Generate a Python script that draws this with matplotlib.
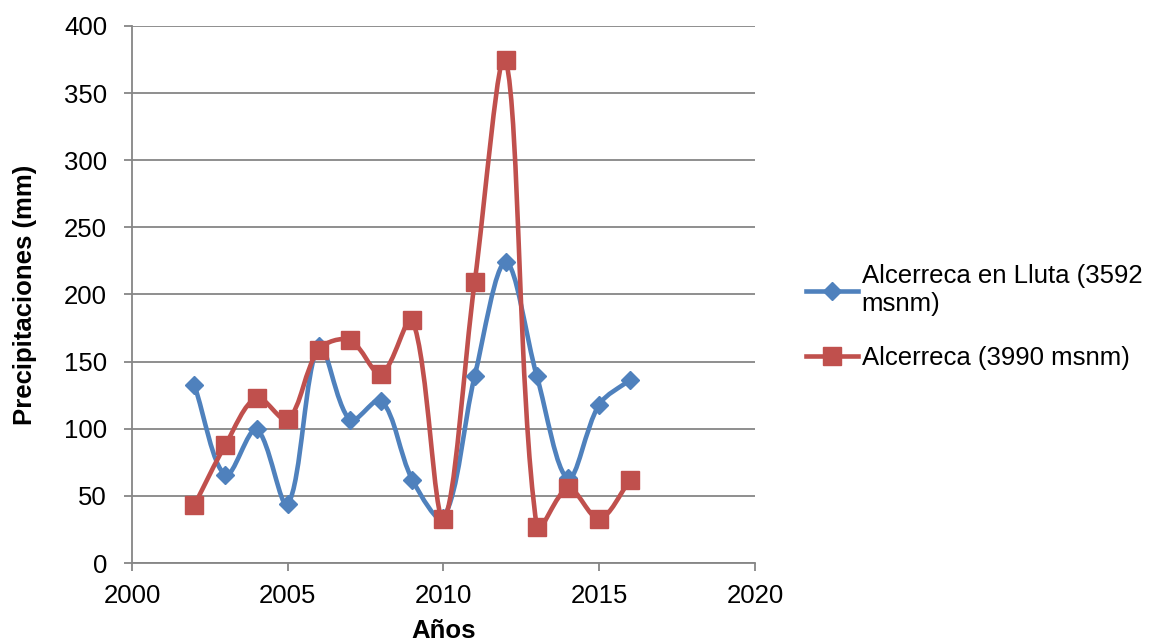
import numpy as np
import matplotlib
matplotlib.use("Agg")
import matplotlib.pyplot as plt
from matplotlib.path import Path
from matplotlib.patches import PathPatch
from matplotlib.lines import Line2D

plt.rcParams['font.family'] = ['Liberation Sans', 'DejaVu Sans']

years = [2002, 2003, 2004, 2005, 2006, 2007, 2008, 2009, 2010, 2011, 2012, 2013, 2014, 2015, 2016]
lluta = [132.6, 65.5, 99.5, 43.8, 162, 106.6, 121, 62, 33.5, 139, 224, 139, 63, 118, 136.6]
alcerreca = [43, 88, 123, 107, 159, 166, 141, 181, 33, 209, 375, 26.5, 55.7, 33, 62]

series_names = ["Alcerreca en Lluta (3592\nmsnm)", "Alcerreca (3990 msnm)"]
colors = ["#4F81BD", "#C0504D"]
markers = ["D", "s"]
marker_sizes = [9.5, 13.5]

FS = 18.5

fig = plt.figure(figsize=(11.57, 6.43), dpi=100)
ax = fig.add_axes([0.1141, 0.1244, 0.5384, 0.8352])
ax.set_xlim(2000, 2020)
ax.set_ylim(0, 400)


def smooth_path(x, y):
    """Cubic Bezier through the points; tangent lengths follow the
    on-screen length of the neighbouring segments."""
    pts_d = np.column_stack([x, y]).astype(float)
    pts = ax.transData.transform(pts_d)
    n = len(pts)
    f = 1.0 / 6.0
    verts = [tuple(pts[0])]
    codes = [Path.MOVETO]
    for i in range(n - 1):
        p0 = pts[max(i - 1, 0)]
        p1 = pts[i]
        p2 = pts[i + 1]
        p3 = pts[min(i + 2, n - 1)]
        d01 = np.hypot(*(p1 - p0))
        d12 = np.hypot(*(p2 - p1))
        d23 = np.hypot(*(p3 - p2))
        s1 = 2 * d12 / (d01 + d12) if d01 + d12 > 0 else 1.0
        s2 = 2 * d12 / (d12 + d23) if d12 + d23 > 0 else 1.0
        c1 = p1 + (p2 - p0) * f * s1
        c2 = p2 - (p3 - p1) * f * s2
        verts += [tuple(c1), tuple(c2), tuple(p2)]
        codes += [Path.CURVE4] * 3
    verts = ax.transData.inverted().transform(np.array(verts))
    return Path(verts, codes)


handles = []
for vals, name, col, mk, ms in zip([lluta, alcerreca], series_names, colors, markers, marker_sizes):
    patch = PathPatch(smooth_path(years, vals), facecolor='none', edgecolor=col,
                      lw=3.3, capstyle='round', joinstyle='round', zorder=3)
    ax.add_patch(patch)
    ax.plot(years, vals, linestyle='none', marker=mk, markersize=ms,
            color=col, markeredgecolor=col, zorder=4)
    handles.append(Line2D([], [], color=col, lw=3.3, marker=mk, markersize=ms,
                          markeredgecolor=col, label=name))

ax.set_xticks(range(2000, 2021, 5))
ax.set_yticks(range(0, 401, 50))
ax.yaxis.grid(True, color='#868686', lw=1.3)
ax.set_axisbelow(True)
for s in ['top', 'right']:
    ax.spines[s].set_visible(False)
for s in ['left', 'bottom']:
    ax.spines[s].set_color('#868686')
    ax.spines[s].set_linewidth(1.3)
ax.tick_params(axis='both', colors='#868686', labelcolor='black', labelsize=FS,
               length=6, width=1.3, direction='out')
ax.tick_params(axis='y', pad=12)
ax.tick_params(axis='x', pad=9)

ax.set_xlabel("Años", fontsize=FS, fontweight='bold', labelpad=8)
ax.set_ylabel("Precipitaciones (mm)", fontsize=FS, fontweight='bold', labelpad=19)

leg = fig.legend(handles=handles, loc='upper left', bbox_to_anchor=(0.688, 0.605),
                 frameon=False, fontsize=FS, handlelength=2.0, handletextpad=0.15,
                 labelspacing=1.15, borderaxespad=0)

fig.savefig("out.png", dpi=100)
